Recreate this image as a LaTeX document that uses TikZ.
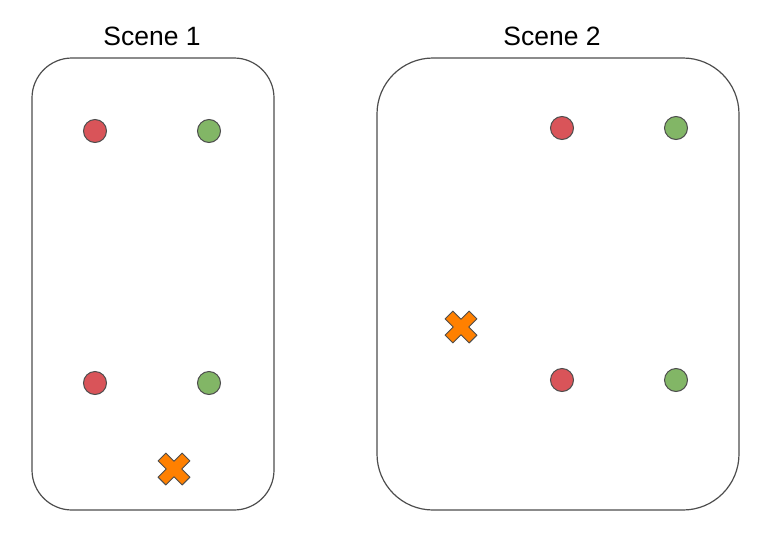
\documentclass[tikz,border=0pt]{standalone}
\usepackage{fontspec}
\setmainfont{Liberation Sans}
\usetikzlibrary{positioning}

\definecolor{dotred}{RGB}{217,84,89}
\definecolor{dotgreen}{RGB}{130,182,102}
\definecolor{crossorange}{RGB}{255,128,0}
\definecolor{edgegray}{RGB}{77,77,77}

\begin{document}
\begin{tikzpicture}[
			x=1pt, y=-1pt,
			scene/.style={draw=edgegray, line width=1.2pt},
			title/.style={font=\fontsize{26.5}{30}\selectfont, anchor=center},
			dot/.style={circle, draw=edgegray, line width=1pt, minimum size=23pt, inner sep=0pt},
			reddot/.style={dot, fill=dotred},
			greendot/.style={dot, fill=dotgreen},
			xmark/.pic={
				\filldraw[fill=crossorange, draw=edgegray, line width=1pt, rotate=45, line join=round]
				(-5.5,-17) -- (5.5,-17) -- (5.5,-5.5) -- (17,-5.5) -- (17,5.5) -- (5.5,5.5)
				-- (5.5,17) -- (-5.5,17) -- (-5.5,5.5) -- (-17,5.5) -- (-17,-5.5) -- (-5.5,-5.5) -- cycle;
			},
			]
			\useasboundingbox (0,0) rectangle (766,544);
			
			% Szenen-Rahmen
			\draw[scene, rounded corners=40pt] (32,58) rectangle (274,510);
			\draw[scene, rounded corners=56pt] (377,58) rectangle (739,510);
			\node[title] (t1) at (152,36) {Scene 1};
			\node[title] (t2) at (552,36) {Scene 2};
			
			% Szene 1
			\node[reddot] (r11) at (95,131) {};
			\node[greendot] (g11) at (209,131) {};
			\node[reddot] (r12) at (95,383) {};
			\node[greendot] (g12) at (209,383) {};
			\pic at (174,469) {xmark};
			
			% Szene 2
			\node[reddot] (r21) at (562,128) {};
			\node[greendot] (g21) at (676,128) {};
			\node[reddot] (r22) at (562,380) {};
			\node[greendot] (g22) at (676,380) {};
			\pic at (461,327) {xmark};
			
		\end{tikzpicture}
\end{document}
